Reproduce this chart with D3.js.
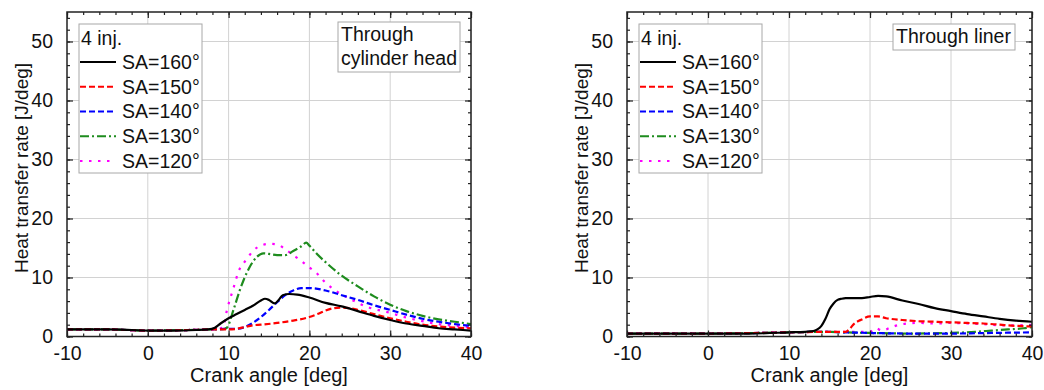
<!DOCTYPE html>
<html><head><meta charset="utf-8">
<script src="https://cdn.jsdelivr.net/npm/d3@7"></script>
<style>
body{margin:0;background:#fff;}
svg text{font-family:"Liberation Sans",Arial,sans-serif;fill:#111;}
</style></head>
<body><svg id="c" width="1044" height="390"></svg>
<script>
// ---------------- data ----------------
const xTicks = [-10, 0, 10, 20, 30, 40];
const yTicks = [0, 10, 20, 30, 40, 50];
const seriesNames = ["SA=160°", "SA=150°", "SA=140°", "SA=130°", "SA=120°"];
const legendTitle = "4 inj.";
const panelTitles = [["Through", "cylinder head"], ["Through liner"]];
const xLabel = "Crank angle [deg]";
const yLabel = "Heat transfer rate [J/deg]";

// Through cylinder head
const head160 = [[-10,1.2],[-8,1.2],[-5,1.2],[-2,1.1],[0,1.0],[3,1.0],[6,1.1],[7.5,1.2],[8.3,1.5],[9,2.2],[10,3.1],[11,3.8],[12,4.5],[13,5.2],[14,6.1],[14.5,6.4],[15,6.2],[15.7,5.6],[16.2,6.2],[16.7,7.0],[17.5,7.2],[18.5,7.1],[20,6.6],[22,5.7],[24,5.1],[26,4.3],[28,3.5],[30,2.8],[32,2.2],[34,1.8],[36,1.4],[38,1.2],[40,1.0]];
const head150 = [[-10,1.2],[-5,1.2],[0,1.0],[5,1.1],[8,1.2],[10,1.2],[11,1.3],[12,1.6],[13,1.9],[14,2.0],[16,2.3],[18,2.7],[20,3.3],[21,3.8],[22,4.4],[23,4.8],[24,4.9],[25,4.8],[26,4.5],[28,3.8],[30,3.1],[32,2.5],[34,2.0],[36,1.7],[38,1.5],[40,1.4]];
const head140 = [[-10,1.2],[-5,1.2],[0,1.0],[5,1.1],[8,1.2],[10,1.3],[11,1.3],[12,1.6],[13,2.3],[14,3.3],[15,4.5],[16,5.8],[17,7.0],[18,7.8],[19,8.2],[20,8.2],[22,7.8],[24,7.0],[26,6.2],[28,5.3],[30,4.5],[32,3.7],[34,3.0],[36,2.5],[38,2.1],[40,1.8]];
const head130 = [[-10,1.2],[-5,1.2],[0,1.0],[5,1.1],[8,1.2],[9.5,1.3],[9.8,1.5],[10.6,4.5],[11.4,7.9],[12.5,11.5],[13.5,13.5],[14.3,14.1],[15,14.0],[16,13.8],[17,13.8],[18,14.5],[19,15.3],[19.6,15.9],[20,15.4],[21,13.9],[22,12.6],[24,10.3],[26,8.5],[28,6.8],[30,5.4],[32,4.3],[34,3.5],[36,2.9],[38,2.5],[40,2.1]];
const head120 = [[-10,1.2],[-5,1.2],[0,1.0],[5,1.1],[8,1.2],[9.3,1.5],[9.8,4.5],[10.6,8.2],[11.2,10.9],[12.3,13.2],[13,14.5],[14,15.4],[15,15.7],[16,15.6],[17,14.8],[18,13.8],[19,12.8],[20,11.7],[21,10.6],[22,9.1],[23,8.0],[25,6.4],[27,5.1],[30,4.0],[32,3.2],[34,2.6],[36,2.1],[38,1.8],[40,1.5]];

// Through liner
const liner160 = [[-10,0.5],[-5,0.5],[0,0.5],[5,0.5],[10,0.7],[12,0.8],[13,0.9],[13.5,1.2],[14,1.8],[14.5,3.0],[15,4.6],[15.5,5.6],[16,6.2],[16.5,6.4],[17,6.5],[18,6.5],[19,6.5],[20,6.7],[21,6.9],[22,6.8],[24,6.1],[26,5.5],[28,4.8],[30,4.3],[32,3.8],[34,3.4],[36,3.0],[38,2.7],[40,2.5]];
const liner150 = [[-10,0.5],[0,0.5],[10,0.7],[15,0.8],[17,0.8],[17.5,1.3],[18,2.1],[19,2.9],[20,3.4],[21,3.4],[22,3.1],[24,2.8],[26,2.6],[28,2.5],[30,2.4],[32,2.3],[34,2.2],[36,2.0],[38,1.8],[40,1.7]];
const liner140 = [[-10,0.5],[0,0.5],[10,0.7],[14,0.8],[17,0.7],[20,0.6],[25,0.5],[30,0.5],[35,0.6],[40,0.7]];
const liner130 = [[-10,0.5],[0,0.5],[10,0.7],[14,0.8],[17,0.7],[20,0.6],[25,0.5],[30,0.6],[33,0.8],[35,1.0],[37,1.2],[39,1.4],[40,1.6]];
const liner120 = [[-10,0.5],[0,0.5],[10,0.7],[15,0.8],[20,0.8],[20.7,1.4],[21.5,1.0],[22.5,1.5],[24,2.1],[26,2.3],[28,2.2],[30,2.3],[32,2.2],[34,2.1],[36,1.9],[38,1.9],[40,2.0]];

// ---------------- styles ----------------
const colors = ["#000000", "#ff0000", "#0000ff", "#1e8c1e", "#ff00ff"];
const dashes = [null, "6,3", "6,3", "9,3,2,3", "2.5,6.5"];

const panels = [
  {x0: 67, x1: 471, series: [head160, head150, head140, head130, head120], title: panelTitles[0], tbox: {dx: 133, w: 122, y: 22, h: 50, baselines: [41, 65]}},
  {x0: 627, x1: 1032, series: [liner160, liner150, liner140, liner130, liner120], title: panelTitles[1], tbox: {dx: 139, w: 122, y: 24, h: 26, baselines: [43]}}
];
const yTop = 12, yBot = 336.5;
const FS = 19.5;

const svg = d3.select("#c");

panels.forEach((p, pi) => {
  const x = d3.scaleLinear().domain([-10, 40]).range([p.x0, p.x1]);
  const y = d3.scaleLinear().domain([0, 55]).range([yBot, yTop]);
  const g = svg.append("g");

  // grid
  g.append("g").selectAll("line").data(xTicks.slice(1)).join("line")
    .attr("x1", d => x(d)).attr("x2", d => x(d)).attr("y1", yTop).attr("y2", yBot)
    .attr("stroke", "#d2d2d2").attr("stroke-width", 1);
  g.append("g").selectAll("line").data(yTicks.slice(1)).join("line")
    .attr("y1", d => y(d)).attr("y2", d => y(d)).attr("x1", p.x0).attr("x2", p.x1)
    .attr("stroke", "#d2d2d2").attr("stroke-width", 1);

  // clip
  const cid = "clip" + pi;
  svg.append("clipPath").attr("id", cid).append("rect")
    .attr("x", p.x0).attr("y", yTop).attr("width", p.x1 - p.x0).attr("height", yBot - yTop);

  const line = d3.line().x(d => x(d[0])).y(d => y(d[1])).curve(d3.curveMonotoneX);
  const lg = g.append("g").attr("clip-path", `url(#${cid})`);
  for (let i = p.series.length - 1; i >= 0; i--) {
    lg.append("path").datum(p.series[i]).attr("d", line)
      .attr("fill", "none").attr("stroke", colors[i]).attr("stroke-width", 2.2)
      .attr("stroke-dasharray", dashes[i]);
  }

  // axes (ticks inward, all four sides)
  const minorX = d3.range(-10, 40.01, 2), minorY = d3.range(0, 55.01, 2);
  const styleAx = sel => { sel.select(".domain").remove(); sel.selectAll("line").attr("stroke", "#222").attr("stroke-width", 1.2); };
  const fontAx = sel => sel.selectAll("text").attr("font-size", FS).attr("font-family", "Liberation Sans, Arial, sans-serif").attr("fill", "#111");
  const fmt = d => String(d);

  g.append("g").attr("transform", `translate(0,${yBot})`)
    .call(d3.axisBottom(x).tickValues(minorX).tickSize(-3).tickFormat("")).call(styleAx);
  g.append("g").attr("transform", `translate(0,${yTop})`)
    .call(d3.axisTop(x).tickValues(minorX).tickSize(-3).tickFormat("")).call(styleAx);
  g.append("g").attr("transform", `translate(${p.x0},0)`)
    .call(d3.axisLeft(y).tickValues(minorY).tickSize(-3).tickFormat("")).call(styleAx);
  g.append("g").attr("transform", `translate(${p.x1},0)`)
    .call(d3.axisRight(y).tickValues(minorY).tickSize(-3).tickFormat("")).call(styleAx);

  const bx = g.append("g").attr("transform", `translate(0,${yBot})`)
    .call(d3.axisBottom(x).tickValues(xTicks).tickSize(-6).tickPadding(12).tickFormat(fmt))
    .call(styleAx).call(fontAx);
  bx.selectAll("text").attr("dy", null).attr("y", 23.5);
  g.append("g").attr("transform", `translate(0,${yTop})`)
    .call(d3.axisTop(x).tickValues(xTicks).tickSize(-6).tickFormat("")).call(styleAx);
  g.append("g").attr("transform", `translate(${p.x0},0)`)
    .call(d3.axisLeft(y).tickValues(yTicks).tickSize(-6).tickPadding(14).tickFormat(fmt))
    .call(styleAx).call(fontAx);
  g.append("g").attr("transform", `translate(${p.x1},0)`)
    .call(d3.axisRight(y).tickValues(yTicks).tickSize(-6).tickFormat("")).call(styleAx);

  // frame
  g.append("rect").attr("x", p.x0).attr("y", yTop).attr("width", p.x1 - p.x0).attr("height", yBot - yTop)
    .attr("fill", "none").attr("stroke", "#222").attr("stroke-width", 1.5);

  // axis titles
  g.append("text").attr("x", (p.x0 + p.x1) / 2).attr("y", 382).attr("text-anchor", "middle")
    .attr("font-size", 20).text(xLabel);
  g.append("text").attr("transform", `translate(${p.x0 - 39},168) rotate(-90)`).attr("text-anchor", "middle")
    .attr("font-size", 19).text(yLabel);

  // legend
  const L = g.append("g").attr("transform", `translate(${p.x0 + 12},24)`);
  L.append("rect").attr("width", 123).attr("height", 149).attr("fill", "#fff")
    .attr("stroke", "#a8a8a8").attr("stroke-width", 1);
  L.append("text").attr("x", 2).attr("y", 21).attr("font-size", FS).text(legendTitle);
  seriesNames.forEach((n, i) => {
    const yy = 38 + i * 24.75;
    L.append("line").attr("x1", 1).attr("x2", 37).attr("y1", yy).attr("y2", yy)
      .attr("stroke", colors[i]).attr("stroke-width", 2.2).attr("stroke-dasharray", dashes[i]);
    L.append("text").attr("x", 43).attr("y", yy).attr("dy", "0.35em").attr("font-size", FS).text(n);
  });

  // panel title box
  const T = g.append("g");
  T.append("rect").attr("x", p.x1 - p.tbox.dx).attr("y", p.tbox.y).attr("width", p.tbox.w).attr("height", p.tbox.h)
    .attr("fill", "#fff").attr("stroke", "#a8a8a8").attr("stroke-width", 1);
  p.title.forEach((t, i) => {
    T.append("text").attr("x", p.x1 - p.tbox.dx + 3).attr("y", p.tbox.baselines[i]).attr("font-size", FS).text(t);
  });
});
</script>
</body></html>
